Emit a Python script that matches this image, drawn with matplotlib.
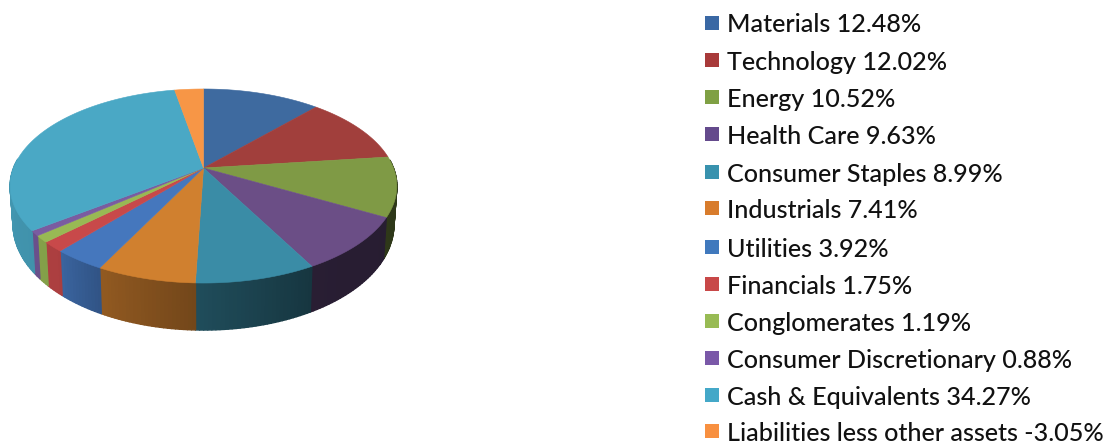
import matplotlib
matplotlib.use("Agg")
import matplotlib.pyplot as plt
from matplotlib.collections import PolyCollection
import numpy as np

names = ["Materials", "Technology", "Energy", "Health Care", "Consumer Staples",
         "Industrials", "Utilities", "Financials", "Conglomerates",
         "Consumer Discretionary", "Cash & Equivalents", "Liabilities less other assets"]
values = [12.48, 12.02, 10.52, 9.63, 8.99, 7.41, 3.92, 1.75, 1.19, 0.88, 34.27, -3.05]
colors = ["#3e6a9f", "#a13f3c", "#7f9a45", "#6b4e86", "#3a8ca6", "#d0802f",
          "#4577bd", "#c8494a", "#98b954", "#7a5ca0", "#4aa8c5", "#f79646"]
legend_colors = ["#3a68a4", "#a83a3a", "#7fa044", "#644a8c", "#3892ae", "#d87c2c",
                 "#4079bd", "#c84848", "#98bb54", "#7a58a8", "#44a8c8", "#f89040"]

# side wall brightness against the angle round the pie (degrees clockwise from 12 o'clock)
shade_angles = [100, 151, 182, 207, 222, 270]
shade_levels = [0.36, 0.38, 0.55, 0.70, 0.86, 0.90]

# perspective of the tilted disc, in pixels
cx = 203.5
radius_x = 190.0
tilt = 0.1856
y_back = -62.5
y_mid = 168.0


def top_edge(theta):
    u = np.sin(theta)
    v = np.cos(theta)
    d = 1 + tilt * v
    return cx + radius_x * u / d, (y_back * v + y_mid) / d


def bottom_edge(theta):
    x, y = top_edge(theta)
    depth = 36 - 11 * np.cos(theta)
    return cx + (x - cx) * 0.985, y + depth


fig = plt.figure(figsize=(11.14, 4.44), dpi=100)
ax = fig.add_axes([0, 0, 1, 1])
ax.set_xlim(0, 1114)
ax.set_ylim(444, 0)
ax.axis("off")

sizes = np.abs(values)
edges = np.concatenate([[0], np.cumsum(sizes)]) / sizes.sum() * 2 * np.pi

# outer wall, cut into thin strips so the shade can change along it
strips = []
strip_colors = []
for i in range(len(values)):
    steps = max(2, int(np.degrees(edges[i + 1] - edges[i])))
    a = np.linspace(edges[i], edges[i + 1], steps + 1)
    for t0, t1 in zip(a[:-1], a[1:]):
        mid = np.degrees((t0 + t1) / 2)
        if mid < 85 or mid > 275:
            continue
        x0, y0 = top_edge(t0)
        x1, y1 = top_edge(t1)
        x2, y2 = bottom_edge(t1)
        x3, y3 = bottom_edge(t0)
        strips.append([(x0, y0), (x1, y1), (x2, y2), (x3, y3)])
        level = np.interp(mid, shade_angles, shade_levels)
        rgb = np.array(matplotlib.colors.to_rgb(colors[i])) * level
        strip_colors.append(rgb)
ax.add_collection(PolyCollection(strips, facecolors=strip_colors, edgecolors=strip_colors, linewidths=1.0))

# top face
for i in range(len(values)):
    a = np.linspace(edges[i], edges[i + 1], 80)
    x, y = top_edge(a)
    ax.fill(np.r_[cx, x], np.r_[y_mid, y], color=colors[i], lw=0.4)

# legend
row_y = [23, 60, 97, 134, 172, 208, 247, 284, 321, 358, 395, 431]
for i in range(len(values)):
    ax.scatter([712], [row_y[i]], marker="s", s=110, color=legend_colors[i], linewidths=0)
    ax.text(727, row_y[i], f"{names[i]} {values[i]:.2f}%", fontsize=18.1, family="Lato",
            fontweight="medium", color="#111111", va="center_baseline", ha="left")

fig.savefig("out.png", dpi=100)
